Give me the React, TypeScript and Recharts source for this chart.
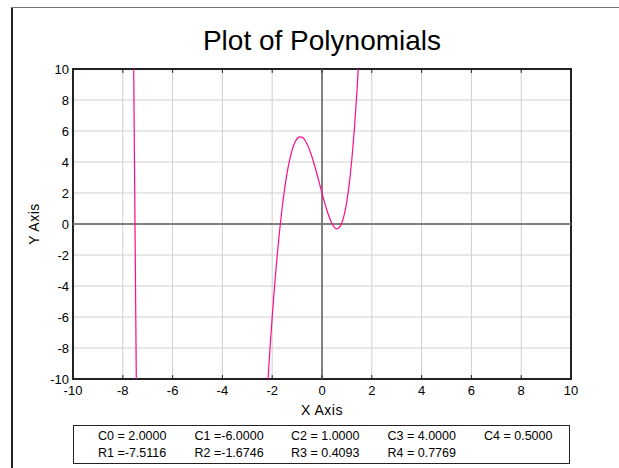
import React from "react";
import {
  LineChart,
  Line,
  XAxis,
  YAxis,
  CartesianGrid,
  ReferenceLine,
  ReferenceArea,
} from "recharts";

// ticks
const xTicks = [-10, -8, -6, -4, -2, 0, 2, 4, 6, 8, 10];
const yTicks = [-10, -8, -6, -4, -2, 0, 2, 4, 6, 8, 10];

// steep branch near the first root
const leftX = [-7.57, -7.45];
const leftY = [11.45, -11.5];

// main branch
const mainX = [
  -2.2, -2.1, -2.0, -1.9, -1.8, -1.7, -1.6, -1.5, -1.4, -1.3, -1.2, -1.1, -1.0,
  -0.9, -0.8, -0.7, -0.6, -0.5, -0.4, -0.3, -0.2, -0.1, 0.0, 0.1, 0.2, 0.3, 0.4,
  0.5, 0.6, 0.7, 0.8, 0.9, 1.0, 1.1, 1.2, 1.3, 1.4, 1.5,
];
const mainY = [
  -10.84, -8.31, -6.0, -3.91, -2.04, -0.39, 1.05, 2.28, 3.31, 4.13, 4.77, 5.22,
  5.5, 5.62, 5.6, 5.44, 5.16, 4.78, 4.32, 3.79, 3.21, 2.61, 2.0, 1.41, 0.87, 0.4,
  0.03, -0.22, -0.31, -0.22, 0.09, 0.65, 1.5, 2.67, 4.19, 6.11, 8.46, 11.28,
];

// legend text
const coefLabels = ["C0 = 2.0000", "C1 =-6.0000", "C2 = 1.0000", "C3 = 4.0000", "C4 = 0.5000"];
const rootLabels = ["R1 =-7.5116", "R2 =-1.6746", "R3 = 0.4093", "R4 = 0.7769"];

const leftData = leftX.map((x, i) => ({ x, y: leftY[i] }));
const mainData = mainX.map((x, i) => ({ x, y: mainY[i] }));

const font = "'Liberation Sans', Arial, sans-serif";
const curveColor = "#ff0a8c";

export default function App() {
  return (
    <div
      style={{
        position: "absolute",
        left: 0,
        top: 0,
        width: 619,
        height: 468,
        background: "#fff",
        fontFamily: font,
      }}
    >
      {/* outer frame */}
      <div style={{ position: "absolute", left: 11, top: 7, width: 2, height: 461, background: "#222" }} />
      <div style={{ position: "absolute", left: 11, top: 7, width: 608, height: 1, background: "#777" }} />

      <div
        style={{
          position: "absolute",
          left: 0,
          top: 25,
          width: 644,
          textAlign: "center",
          fontSize: 28,
          color: "#000",
        }}
      >
        Plot of Polynomials
      </div>

      <div style={{ position: "absolute", left: 0, top: 0 }}>
        <LineChart
          width={619}
          height={468}
          margin={{ top: 69, right: 48, left: 13, bottom: 59 }}
        >
          <CartesianGrid stroke="#cfcfcf" horizontalValues={yTicks} verticalValues={xTicks} />
          <XAxis
            type="number"
            dataKey="x"
            domain={[-10, 10]}
            ticks={xTicks}
            allowDataOverflow
            height={30}
            tickSize={0}
            tickMargin={7}
            axisLine={false}
            tick={{ fill: "#000", fontSize: 13, fontFamily: font }}
          />
          <YAxis
            type="number"
            dataKey="y"
            domain={[-10, 10]}
            ticks={yTicks}
            allowDataOverflow
            width={60}
            tickSize={0}
            tickMargin={4}
            axisLine={false}
            tick={{ fill: "#000", fontSize: 13, fontFamily: font }}
          />
          <ReferenceLine x={0} stroke="#808080" strokeWidth={2} />
          <ReferenceLine y={0} stroke="#808080" strokeWidth={2} />
          {xTicks.map((t) => (
            <ReferenceLine
              key={"tb" + t}
              segment={[{ x: t, y: -10 }, { x: t, y: -9.75 }]}
              stroke="#222"
            />
          ))}
          {xTicks.map((t) => (
            <ReferenceLine
              key={"tt" + t}
              segment={[{ x: t, y: 10 }, { x: t, y: 9.75 }]}
              stroke="#222"
            />
          ))}
          <Line
            data={leftData}
            dataKey="y"
            type="linear"
            stroke={curveColor}
            strokeWidth={1.2}
            dot={false}
            isAnimationActive={false}
          />
          <Line
            data={mainData}
            dataKey="y"
            type="monotone"
            stroke={curveColor}
            strokeWidth={1.2}
            dot={false}
            isAnimationActive={false}
          />
          <ReferenceArea
            x1={-10}
            x2={10}
            y1={-10}
            y2={10}
            fill="none"
            fillOpacity={0}
            stroke="#222"
            strokeWidth={2}
          />
        </LineChart>
      </div>

      <div
        style={{
          position: "absolute",
          left: 0,
          top: 402,
          width: 644,
          textAlign: "center",
          fontSize: 14,
          letterSpacing: 0.5,
        }}
      >
        X Axis
      </div>
      <div
        style={{
          position: "absolute",
          left: 34,
          top: 224,
          transform: "translate(-50%, -50%) rotate(-90deg)",
          fontSize: 14,
          letterSpacing: 0.5,
          whiteSpace: "nowrap",
        }}
      >
        Y Axis
      </div>

      {/* coefficient / root box */}
      <div
        style={{
          position: "absolute",
          left: 73,
          top: 425,
          width: 495,
          height: 37,
          border: "1px solid #222",
          fontSize: 12.5,
          color: "#000",
        }}
      >
        {coefLabels.map((s, i) => (
          <span key={s} style={{ position: "absolute", left: 24 + i * 96.5, top: 3 }}>
            {s}
          </span>
        ))}
        {rootLabels.map((s, i) => (
          <span key={s} style={{ position: "absolute", left: 24 + i * 96.5, top: 20 }}>
            {s}
          </span>
        ))}
      </div>
    </div>
  );
}
